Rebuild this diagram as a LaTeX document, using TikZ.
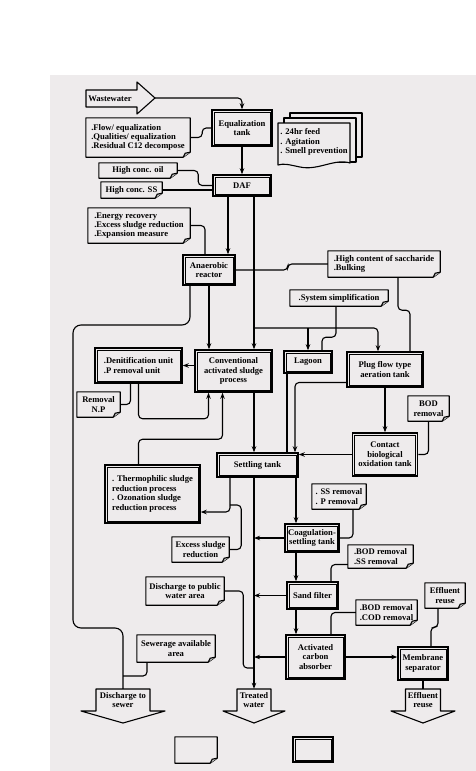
\documentclass[tikz,border=0pt]{standalone}
\usepackage{fontspec}
\setmainfont{Liberation Serif}
\usetikzlibrary{arrows.meta}
\definecolor{paper}{RGB}{238,235,236}
\begin{document}
\begin{tikzpicture}[x=1pt,y=-1pt,
  every node/.style={font=\bfseries\fontsize{8.6}{9.4}\selectfont,align=center,inner sep=1pt},
  unitbox/.style 2 args={draw,line width=1.5pt,minimum width=#1,minimum height=#2},
  notebox/.style 2 args={minimum width=#1,minimum height=#2,align=left},
  outlabel/.style={minimum height=22pt,inner sep=0pt},
  noteline/.style={line width=1.1pt,line join=round},
  conn/.style={line width=1.1pt,rounded corners=4pt},
  arr/.style={conn,-{Stealth[length=6pt,width=4.5pt]}}]

% page
\useasboundingbox (0,0) rectangle (476,771);
\fill[paper] (50,75) rectangle (476,771);

% inlet and stacked sheets
\draw[noteline] (86,90) -- (137,90) -- (137,82) -- (155,98) -- (137,114) -- (137,107) -- (86,107) -- cycle;
\node (ww) at (110,98.5) {Wastewater};
\coordinate (wwtip) at (155,98);
\draw[noteline,fill=paper] (290,113) rectangle (362,157);
\draw[noteline,fill=paper] (284,118) rectangle (356,162);
\draw[noteline,fill=paper] (278,123) -- (350,123) -- (350,163) .. controls (335,158) and (318,171) .. (300,167) .. controls (290,165) and (284,163) .. (278,165) -- cycle;
\node[align=left] (nfeed) at (314,142) {. 24hr feed\\. Agitation\\. Smell prevention};

% outlets
\foreach \cx/\bw/\hw in {123/27/42,254/17/31,423/17.5/32}
  \draw[noteline] ({\cx-\bw},689) -- ({\cx+\bw},689) -- ({\cx+\bw},711) -- ({\cx+\hw},711) -- (\cx,723) -- ({\cx-\hw},711) -- ({\cx-\bw},711) -- cycle;
\node[outlabel] (sewer) at (123,700) {Discharge to\\sewer};
\node[outlabel] (twater) at (254,700) {Treated\\water};
\node[outlabel] (ereuse) at (423,700) {Effluent\\reuse};

% units
\node[unitbox={60pt}{36pt}] (eq) at (242,128) {Equalization\\tank};
\node[unitbox={58pt}{21pt}] (daf) at (242,185.5) {DAF};
\node[unitbox={52pt}{30pt}] (ana) at (209,270) {Anaerobic\\reactor};
\node[unitbox={87pt}{35pt},align=left] (denit) at (138.5,365.5) {.Denitification unit\\.P removal unit};
\node[unitbox={77pt}{42pt}] (conv) at (233.5,371) {Conventional\\activated sludge\\process};
\node[unitbox={48pt}{22pt}] (lagoon) at (308,362) {Lagoon};
\node[unitbox={76pt}{35pt}] (plug) at (385,369.5) {Plug flow type\\aeration tank};
\node[unitbox={65pt}{43pt}] (contact) at (385,454.5) {Contact\\biological\\oxidation tank};
\node[unitbox={81pt}{24pt}] (settle) at (257.5,465) {Settling tank};
\node[unitbox={95pt}{58pt},align=left] (thermo) at (152.5,494) {. Thermophilic sludge\\reduction process\\. Ozonation sludge\\reduction process};
\node[unitbox={54pt}{28pt}] (coag) at (312,538) {Coagulation-\\settling tank};
\node[unitbox={51pt}{27pt}] (sand) at (312.5,595.5) {Sand filter};
\node[unitbox={59pt}{44pt}] (acarb) at (315.5,657) {Activated\\carbon\\absorber};
\node[unitbox={50pt}{33pt}] (memb) at (423,663.5) {Membrane\\separator};
\node[unitbox={40pt}{25pt}] (lgbox) at (313,749.5) {};

% notes
\node[notebox={104pt}{39pt}] (nflow) at (138,137.5) {.Flow/ equalization\\.Qualities/ equalization\\.Residual C12 decompose};
\node[notebox={78pt}{15pt}] (noil) at (138,170.5) {High conc. oil};
\node[notebox={61pt}{16pt}] (nss) at (131.5,190) {High conc. SS};
\node[notebox={102pt}{35pt}] (nenergy) at (139,225.5) {.Energy recovery\\.Excess sludge reduction\\.Expansion measure};
\node[notebox={112pt}{26pt}] (nsacch) at (384,264) {.High content of saccharide\\.Bulking};
\node[notebox={98pt}{16pt}] (nsimp) at (339,298) {.System simplification};
\node[notebox={43pt}{25pt},align=center] (nnp) at (98.5,404.5) {Removal\\N.P};
\node[notebox={41pt}{25pt},align=center] (nbod) at (428.5,408.5) {BOD\\removal};
\node[notebox={54pt}{25pt}] (nssp) at (339,496.5) {. SS removal\\. P removal};
\node[notebox={57pt}{25pt},align=center] (nexcess) at (200.5,549.5) {Excess sludge\\reduction};
\node[notebox={65pt}{23pt}] (nbodss) at (380.5,556.5) {.BOD removal\\.SS removal};
\node[notebox={78pt}{28pt},align=center] (npublic) at (185,591) {Discharge to public\\water area};
\node[notebox={61pt}{25pt}] (nbodcod) at (386.5,612.5) {.BOD removal\\.COD removal};
\node[notebox={40pt}{25pt},align=center] (nreuse) at (445,595.5) {Effluent\\reuse};
\node[notebox={78pt}{27pt},align=center] (nsewer) at (176,648.5) {Sewerage available\\area};
\node[notebox={42pt}{26pt}] (lgnote) at (196,750) {};

% box inner lines and note outlines
\foreach \n in {eq,daf,ana,denit,conv,lagoon,plug,contact,settle,thermo,coag,sand,acarb,memb,lgbox}
  \draw[line width=0.7pt] ([shift={(2.8pt,-2.8pt)}]\n.north west) rectangle ([shift={(-2.8pt,2.8pt)}]\n.south east);
\foreach \n in {nflow,noil,nss,nenergy,nsacch,nsimp,nnp,nbod,nssp,nexcess,nbodss,npublic,nbodcod,nreuse,nsewer,lgnote}{
  \draw[noteline] (\n.north west) -- (\n.north east) -- ([yshift=5pt]\n.south east) -- ([xshift=-7pt]\n.south east) -- (\n.south west) -- cycle;
  \draw[noteline,fill=black!20] ([xshift=-7pt]\n.south east) -- ([xshift=-5pt,yshift=4pt]\n.south east) -- ([yshift=5pt]\n.south east);
}

% junctions
\coordinate (br) at (254,328);
\coordinate (lbend) at (73,325);
\coordinate (lbottom) at (73,628);
\coordinate (sj) at (123,676);
\coordinate (exj) at (230,505);
\coordinate (pj) at (254,668);

% flows
\draw[arr] (wwtip) -| (eq.north);
\draw[conn] (nflow.east) -- ++(12,0) |- (eq.west);
\draw[arr] (eq.south) -- (daf.north);
\draw[conn] (noil.east) -- ++(21,0) |- (daf.west);
\draw[conn] (nss.east) -- (nss.east -| daf.west);
\draw[arr] ([xshift=-14pt]daf.south) -- ([xshift=19pt]ana.north);
\draw[arr] ([xshift=12pt]daf.south) -- ([xshift=20.5pt]conv.north);
\draw[arr] (br) -| ([xshift=-7pt]plug.north);
\draw[arr] (br -| lagoon.north) -- (lagoon.north);
\draw[conn] (nenergy.east) -| ([xshift=-4pt]ana.north);
\draw[arr] (ana.south) -- ([xshift=-24.5pt]conv.north);
\draw[conn] (ana.east) -- ++(52,0) |- (nsacch.west);
\draw[conn] ([xshift=14pt]nsacch.south) -- ++(0,33) -| ([xshift=25pt]plug.north);
\draw[conn] ([xshift=-3pt]nsimp.south) -- ++(0,31) -| ([xshift=14pt]lagoon.north);
\draw[conn,rounded corners=8pt] ([xshift=-19pt]ana.south) |- (lbend) -- (lbottom) -| (sewer.north);
\draw[conn] ([xshift=-29pt]nsewer.south) |- (sj);
\draw[arr] (conv.west |- denit.east) -- (denit.east);
\draw[conn] ([xshift=-8pt]denit.south) |- (nnp.east);
\draw[arr] (denit.south) -- ++(0,35) -| ([xshift=-25pt]conv.south);
\draw[arr] ([xshift=-14pt]thermo.north) -- ++(0,-25) -| ([xshift=-11pt]conv.south);
\draw[arr] ([xshift=20.5pt]conv.south) -- ([xshift=-3.5pt]settle.north);
\draw[conn] ([xshift=-21pt]lagoon.south) -- ([xshift=29.5pt]settle.north);
\draw[arr] ([yshift=-13pt]plug.west) -| ([xshift=37.5pt]settle.north);
\draw[arr] (plug.south) -- (contact.north);
\draw[arr] (contact.west) -- (contact.west -| settle.east);
\draw[conn] (nbod.south) |- (contact.east);
\draw[arr] ([xshift=-27.5pt]settle.south) |- ([yshift=-18pt]thermo.east);
\draw[conn] (nexcess.east) -- ++(12,0) |- (exj);
\draw[arr] ([xshift=-3.5pt]settle.south) -- (twater.north);
\draw[arr] ([xshift=38.5pt]settle.south) -- ([xshift=-16pt]coag.north);
\draw[conn] ([xshift=14pt]nssp.south) |- (coag.east);
\draw[arr] (coag.west) -- (coag.west -| br);
\draw[arr] ([xshift=-16pt]coag.south) -- ([xshift=-16.5pt]sand.north);
\draw[conn] ([yshift=-8pt]nbodss.west) -| ([xshift=18.5pt]sand.north);
\draw[arr] (sand.west) -- (sand.west -| br);
\draw[conn] (npublic.east) -- ++(19,0) |- (pj);
\draw[arr] ([xshift=-16.5pt]sand.south) -- ([xshift=-19.5pt]acarb.north);
\draw[conn] (nbodcod.west) -| ([xshift=15.5pt]acarb.north);
\draw[arr] (acarb.west) -- (acarb.west -| br);
\draw[arr] (acarb.east) -- (acarb.east -| memb.west);
\draw[conn] ([xshift=-7pt]nreuse.south) -- ++(0,19) -| ([xshift=8pt]memb.north);
\draw[conn] (memb.south) -- (ereuse.north);
\end{tikzpicture}
\end{document}
